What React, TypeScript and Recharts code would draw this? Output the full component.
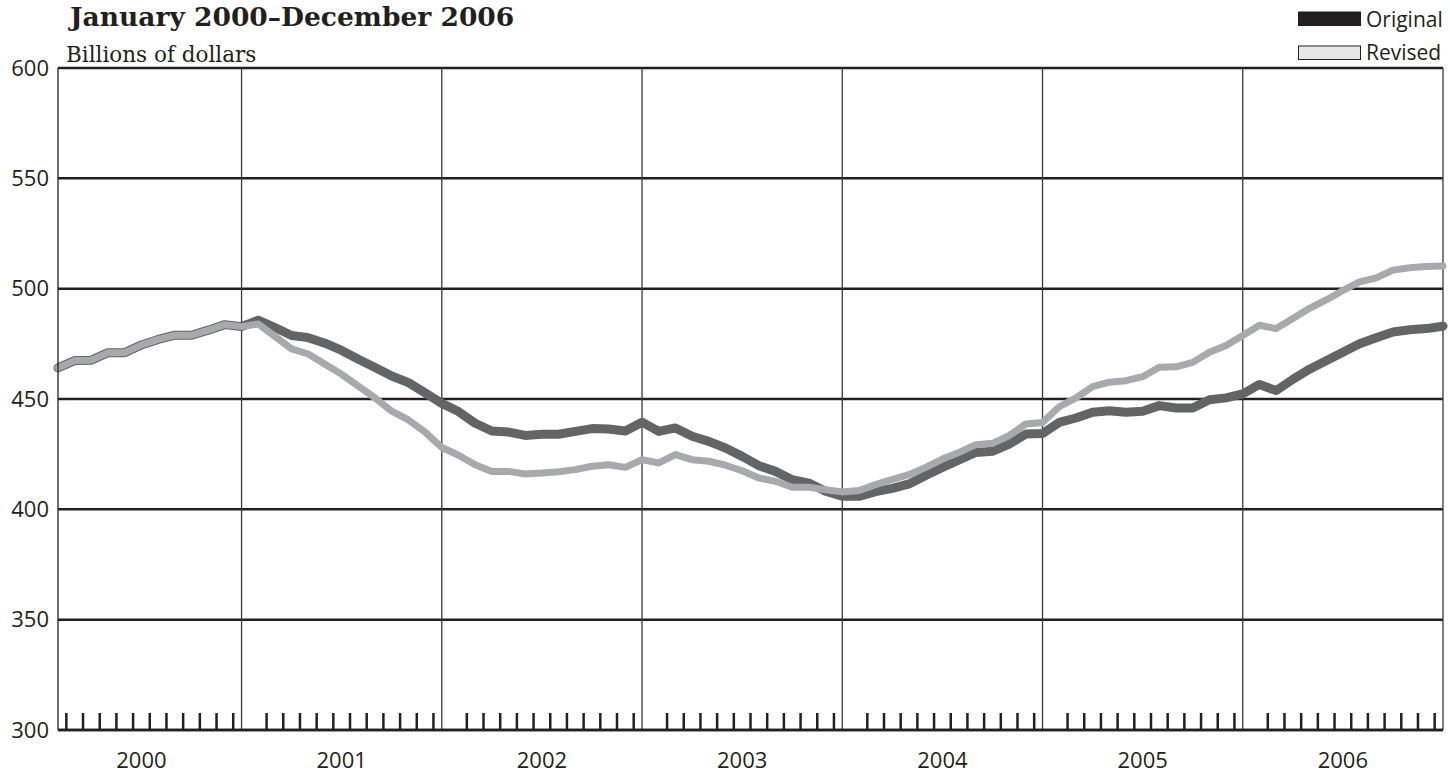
import React from 'react';
import { LineChart, Line, XAxis, YAxis, CartesianGrid, ReferenceLine } from 'recharts';

const years = ['2000', '2001', '2002', '2003', '2004', '2005', '2006'];
const months = ['Jan', 'Feb', 'Mar', 'Apr', 'May', 'Jun', 'Jul', 'Aug', 'Sep', 'Oct', 'Nov', 'Dec'];

const original = [
  464.1, 467.4, 467.6, 471, 471, 474.5, 477, 478.9, 478.9, 481.2, 483.7, 482.8,
  485.7, 482.4, 478.8, 477.8, 475.3, 472, 468, 464.3, 460.4, 457.4, 452.8, 448,
  444.3, 439, 435.5, 435, 433.5, 434, 434, 435.3, 436.6, 436.4, 435.5, 439.5,
  435.3, 436.9, 433.1, 430.8, 427.8, 424, 419.8, 417.2, 413.4, 411.9, 408.2, 405.9,
  405.9, 408, 409.5, 411.5, 415.3, 419, 422.4, 425.8, 426.3, 429.6, 434.1, 434.4,
  439.4, 441.4, 444, 444.7, 444, 444.4, 447, 445.9, 445.9, 449.7, 450.5, 452.3,
  456.6, 453.8, 458.9, 463.5, 467.3, 471.2, 475, 477.8, 480.4, 481.4, 481.9, 483,
];

const revised = [
  464.1, 467.4, 467.6, 471, 471, 474.5, 477, 478.9, 478.9, 481.2, 483.7, 482.8,
  484, 478.4, 472.7, 470.4, 465.8, 461.2, 455.8, 450.5, 444.5, 440.5, 435, 428,
  424.5, 420.2, 417.2, 417.2, 416, 416.5, 417, 418, 419.5, 420.2, 419, 422.5,
  421, 424.8, 422.5, 421.8, 420, 417.5, 414.2, 412.7, 410, 410, 408.9, 407.9,
  408.5, 411.2, 413.6, 415.7, 419, 422.8, 425.8, 429.3, 429.9, 433.4, 438.7, 439.4,
  446.5, 450.5, 455.6, 457.6, 458.3, 460.1, 464.4, 464.6, 466.6, 471.2, 474.2, 478.8,
  483.4, 481.9, 486.5, 491.1, 494.9, 499.2, 503.1, 504.9, 508.4, 509.5, 510, 510.3,
];

const yTicks = [300, 350, 400, 450, 500, 550, 600];

const titleText = 'January 2000\u2013December 2006';
const unitText = 'Billions of dollars';

const legendItems = [
  { name: 'Original', fill: '#231f20' },
  { name: 'Revised', fill: '#e6e7e8' },
];

const data = original.map((v, i) => ({
  i,
  year: years[Math.floor(i / 12)],
  month: months[i % 12],
  original: v,
  revised: revised[i],
}));

const lastIndex = data.length - 1;
const yearBoundaries = data.filter((d) => d.month === 'Dec').map((d) => d.i);
const monthTicks = data.filter((d) => d.month !== 'Dec').map((d) => d.i + 0.5);
const yearLabelTicks = data.filter((d) => d.month === 'Jun').map((d) => d.i);
const allXTicks = [...monthTicks, ...yearLabelTicks].sort((a, b) => a - b);

const INK = '#231f20';
const FONT = "'Open Sans', sans-serif";

function BottomTick(props: any) {
  const { x, y, payload } = props;
  const v = payload.value;
  if (yearLabelTicks.includes(v)) {
    return (
      <text
        x={x}
        y={y + 22}
        dy="0.71em"
        textAnchor="middle"
        fontFamily={FONT}
        fontSize={22}
        fill={INK}
      >
        {data[v].year}
      </text>
    );
  }
  return <line x1={x} x2={x} y1={y} y2={y - 17} stroke={INK} strokeWidth={2.5} />;
}

export default function App() {
  return (
    <div style={{ position: 'relative', width: 1450, height: 773, background: '#fff' }}>
      <style>{'body{margin:0;background:#fff}'}</style>
      <LineChart
        width={1450}
        height={773}
        data={data}
        margin={{ top: 68, right: 7, bottom: 0, left: 0 }}
      >
        <CartesianGrid vertical={false} stroke={INK} strokeWidth={2.5} />
        <XAxis
          dataKey="i"
          type="number"
          domain={[0, lastIndex]}
          ticks={allXTicks}
          interval={0}
          allowDecimals
          tick={<BottomTick />}
          tickLine={false}
          tickSize={0}
          tickMargin={0}
          height={43}
          axisLine={{ stroke: INK, strokeWidth: 2.5 }}
        />
        <YAxis
          domain={[300, 600]}
          ticks={yTicks}
          interval={0}
          width={58}
          tickLine={false}
          tickSize={0}
          tickMargin={9}
          axisLine={{ stroke: INK, strokeWidth: 1.3 }}
          tick={{ fontSize: 22, fill: INK, fontFamily: FONT }}
        />
        {yearBoundaries.map((b) => (
          <ReferenceLine key={b} x={b} stroke="#3a3a3a" strokeWidth={1.3} />
        ))}
        <Line
          type="linear"
          dataKey="original"
          stroke="#636466"
          strokeWidth={9}
          strokeLinecap="round"
          strokeLinejoin="round"
          dot={false}
          activeDot={false}
          isAnimationActive={false}
        />
        <Line
          type="linear"
          dataKey="revised"
          stroke="#a7a9ac"
          strokeWidth={7}
          strokeLinecap="round"
          strokeLinejoin="round"
          dot={false}
          activeDot={false}
          isAnimationActive={false}
        />
      </LineChart>
      <svg
        width={1450}
        height={68}
        style={{ position: 'absolute', left: 0, top: 0, pointerEvents: 'none' }}
      >
        <text x={70} y={26} fontFamily="'DejaVu Serif', serif" fontWeight="bold" fontSize={26.5} fill={INK}>
          {titleText}
        </text>
        <text x={66} y={62} fontFamily="'DejaVu Serif', serif" fontSize={21.5} fill={INK}>
          {unitText}
        </text>
        {legendItems.map((it, k) => (
          <g key={it.name}>
            <rect
              x={1298.5}
              y={12 + k * 34}
              width={62}
              height={13.5}
              fill={it.fill}
              stroke={INK}
              strokeWidth={1}
            />
            <text x={1366} y={27 + k * 33} fontFamily={FONT} fontSize={21} fill={INK}>
              {it.name}
            </text>
          </g>
        ))}
      </svg>
    </div>
  );
}
